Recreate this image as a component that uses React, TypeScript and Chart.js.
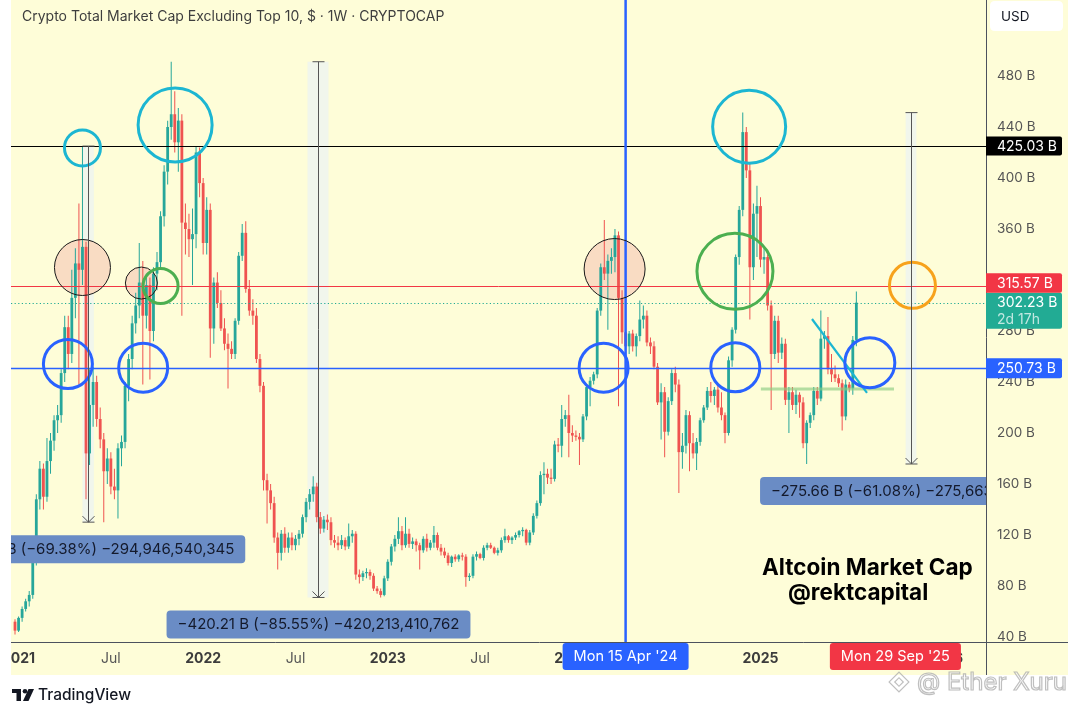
import React, { useEffect, useRef } from 'react';
import { Chart, registerables } from 'chart.js';

Chart.register(...registerables);

const FONT = 'Inter, "Noto Sans", sans-serif';
const UP = '#26A69A';
const DOWN = '#EF5350';
const PANEL_BG = '#FEFDD8';
const CYAN = '#1CB6D2';
const BLUE = '#2962FF';
const GREEN = '#4CAF50';
const ORANGE = '#F7A21B';
const PEACH = '#F9DCC3';
const PANEL_RIGHT = 1068;
const PANEL_BOTTOM = 675;

// ---------- weekly time axis (Mondays) ----------
const FIRST_MONDAY_UTC = Date.UTC(2020, 11, 28);
const WEEK_MS = 7 * 24 * 3600 * 1000;
const AXIS_WEEKS = 275;
const weekDates = Array.from({ length: AXIS_WEEKS }, (_, i) => new Date(FIRST_MONDAY_UTC + i * WEEK_MS));

// ---------- OHLC (billions USD), one row per 10 weeks ----------
const opens = [
  52, 45, 55, 62, 68, 73, 100, 148, 172, 150,
  178, 194, 210, 214, 247, 283, 262, 306, 333, 328,
  346, 184, 222, 240, 211, 195, 170, 180, 158, 155,
  188, 193, 237, 258, 286, 300, 318, 292, 316, 280,
  325, 334, 370, 405, 440, 450, 428, 445, 365, 360,
  352, 356, 420, 396, 349, 375, 282, 318, 302, 282,
  270, 266, 262, 288, 339, 357, 313, 296, 292, 258,
  237, 163, 155, 145, 118, 106, 121, 110, 118, 112,
  117, 121, 134, 146, 152, 158, 134, 125, 132, 130,
  116, 114, 112, 116, 111, 119, 121, 89, 87, 90,
  91, 88, 78, 76, 73, 86, 99, 111, 117, 123,
  112, 121, 113, 115, 112, 108, 117, 110, 114, 120,
  110, 107, 104, 98, 103, 101, 104, 103, 87, 88,
  103, 105, 102, 110, 112, 110, 106, 108, 116, 119,
  116, 118, 120, 123, 124, 114, 122, 135, 145, 167,
  168, 165, 164, 191, 190, 211, 214, 200, 198, 197,
  195, 213, 236, 241, 246, 296, 330, 325, 335, 338,
  355, 306, 279, 268, 278, 268, 276, 289, 292, 271,
  268, 252, 224, 232, 201, 225, 247, 238, 185, 190,
  214, 192, 184, 193, 210, 220, 233, 229, 234, 220,
  214, 200, 257, 281, 338, 375, 436, 406, 330, 372,
  378, 336, 338, 300, 262, 288, 263, 270, 226, 232,
  222, 230, 224, 192, 208, 214, 233, 227, 274, 276,
  250, 246, 243, 239, 213, 238, 235, 273,
];
const highs = [
  54, 56, 64, 70, 76, 102, 152, 178, 176, 196,
  200, 214, 222, 250, 292, 292, 328, 345, 380, 425.03,
  350, 250, 252, 245, 220, 200, 188, 185, 172, 192,
  198, 240, 262, 292, 310, 349, 335, 325, 322, 330,
  342, 374, 410, 445, 491.2, 468, 455, 450, 380, 372,
  376, 425, 424, 400, 385, 380, 322, 326, 312, 290,
  278, 272, 290, 342, 364, 366, 320, 305, 298, 262,
  240, 168, 160, 150, 122, 124, 126, 122, 122, 120,
  124, 136, 149, 156, 166, 161, 138, 135, 136, 134,
  120, 119, 120, 118, 129, 124, 123, 93, 92, 94,
  93, 90, 80, 78, 88, 101, 113, 120, 134, 127,
  134, 125, 118, 117, 114, 119, 121, 116, 127, 122,
  113, 110, 106, 104, 105, 105, 106, 105, 90, 105,
  107, 106, 112, 114, 114, 111, 110, 118, 125, 120,
  119, 122, 124, 126, 125, 124, 137, 147, 170, 177,
  172, 172, 194, 196, 222, 218, 230, 206, 202, 200,
  215, 237, 244, 248, 298, 333, 367, 340, 345, 360,
  358, 312, 289, 280, 281, 278, 304, 300, 296, 275,
  272, 255, 239, 236, 228, 250, 252, 242, 200, 218,
  217, 200, 196, 212, 222, 236, 240, 236, 238, 232,
  216, 260, 283, 340, 378, 451.3, 440, 412, 380, 394,
  385, 345, 340, 304, 292, 292, 275, 274, 236, 236,
  234, 232, 228, 210, 216, 236, 236, 296, 280, 291,
  262, 253, 246, 242, 242, 240, 276, 311,
];
const lows = [
  42, 44, 52, 60, 64, 70, 96, 140, 140, 146,
  168, 186, 200, 208, 240, 250, 255, 290, 238, 316,
  148, 175, 205, 205, 188, 130.08, 160, 152, 148, 133,
  174, 188, 225, 250, 278, 290, 238, 282, 242, 272,
  312, 330, 362, 395, 430, 420, 405, 292, 340, 338,
  316, 345, 385, 340, 340, 259, 270, 298, 280, 265,
  235, 258, 258, 285, 335, 310, 292, 285, 255, 232,
  155, 129, 140, 114, 93, 100, 106, 106, 108, 108,
  112, 118, 130, 140, 146, 130, 121, 122, 124, 112,
  110, 108, 109, 108, 109, 114, 85, 82, 84, 86,
  85, 76, 74, 71, 72, 84, 96, 107, 113, 108,
  110, 110, 109, 107, 93, 106, 107, 108, 110, 108,
  104, 102, 96, 95, 99, 99, 100, 79.5, 84, 86,
  100, 101, 100, 108, 109, 105, 104, 106, 114, 114,
  113, 116, 118, 119, 112, 112, 120, 133, 143, 152,
  160, 160, 162, 185, 181, 205, 181, 193, 194, 175,
  193, 210, 221, 238, 243, 292, 320, 281, 325, 326,
  221, 270, 236, 262, 264, 260, 272, 282, 268, 262,
  250, 222, 195, 181, 198, 222, 232, 153, 172, 184,
  170, 180, 171, 190, 208, 218, 224, 222, 216, 210,
  192, 198, 252, 278, 332, 370, 400, 289, 320, 338,
  330, 325, 296, 218, 258, 255, 258, 222, 200, 218,
  215, 212, 188, 175.7, 204, 210, 222, 225, 266, 246,
  240, 240, 236, 202, 210, 232, 230, 268,
];
const closes = [
  45, 55, 62, 68, 73, 100, 148, 172, 150, 178,
  194, 210, 214, 247, 283, 262, 306, 333, 328, 346,
  184, 222, 240, 211, 195, 170, 180, 158, 155, 188,
  193, 237, 258, 286, 300, 318, 292, 316, 280, 325,
  334, 370, 405, 440, 450, 428, 445, 365, 360, 352,
  356, 420, 396, 349, 375, 282, 318, 302, 282, 270,
  266, 262, 288, 339, 357, 313, 296, 292, 258, 237,
  163, 155, 145, 118, 106, 121, 110, 118, 112, 117,
  121, 134, 146, 152, 158, 134, 125, 132, 130, 116,
  114, 112, 116, 111, 119, 121, 89, 87, 90, 91,
  88, 78, 76, 73, 86, 99, 111, 117, 123, 112,
  121, 113, 115, 112, 108, 117, 110, 114, 120, 110,
  107, 104, 98, 103, 101, 104, 103, 87, 88, 103,
  105, 102, 110, 112, 110, 106, 108, 116, 119, 116,
  118, 120, 123, 124, 114, 122, 135, 145, 167, 168,
  165, 164, 191, 190, 211, 214, 200, 198, 197, 195,
  213, 236, 241, 246, 296, 330, 325, 335, 338, 355,
  306, 279, 268, 278, 268, 276, 289, 292, 271, 268,
  252, 224, 232, 201, 225, 247, 238, 185, 190, 214,
  192, 184, 193, 210, 220, 233, 229, 234, 220, 214,
  200, 257, 281, 338, 375, 436, 406, 330, 372, 378,
  336, 338, 300, 262, 288, 263, 270, 226, 232, 222,
  230, 224, 192, 208, 214, 233, 227, 274, 276, 250,
  246, 243, 239, 213, 238, 235, 273, 302.23,
];

// ---------- axes ----------
const yTickValues = [40, 80, 120, 160, 200, 240, 280, 320, 360, 400, 440, 480, 520];
const Y_MIN = 36.08;
const Y_MAX = 539.61;
const X_MIN = -1.13;
const X_MAX = 273.52;

// time ticks: first weekly bar of each January (year) and July
const timeTicks: { week: number; label: string; bold: boolean }[] = [];
for (let i = 1; i < weekDates.length; i++) {
  const m = weekDates[i].getUTCMonth();
  const pm = weekDates[i - 1].getUTCMonth();
  if (m !== pm && (m === 0 || m === 6)) {
    timeTicks.push({ week: i, label: m === 0 ? String(weekDates[i].getUTCFullYear()) : 'Jul', bold: m === 0 });
  }
}
const tickLabelByWeek: Record<number, string> = {};
const boldWeeks = new Set<number>();
timeTicks.forEach((t) => {
  tickLabelByWeek[t.week] = t.label;
  if (t.bold) boldWeeks.add(t.week);
});

// ---------- annotations ----------
const levels = [
  { value: 425.03, color: '#000000', width: 1.2, dash: [] as number[] },
  { value: 315.57, color: '#F23645', width: 1, dash: [] as number[] },
  { value: 302.23, color: '#22AB94', width: 1.2, dash: [1.2, 2.4] },
  { value: 250.73, color: BLUE, width: 1.3, dash: [] as number[] },
];
const blueMarkerWeek = 172; // Mon 15 Apr '24
const dateTags = [
  { week: 172, text: "Mon 15 Apr '24", color: BLUE },
  { week: 248, text: "Mon 29 Sep '25", color: '#F23645' },
];
const circles = [
  { week: 19.0, value: 423.5, r: 18, stroke: CYAN, lw: 3, fill: '' },
  { week: 45.1, value: 441.6, r: 37, stroke: CYAN, lw: 3, fill: '' },
  { week: 19.0, value: 329.8, r: 28, stroke: '#1a1a1a', lw: 1, fill: PEACH },
  { week: 35.6, value: 317.6, r: 16, stroke: '#1a1a1a', lw: 1, fill: PEACH },
  { week: 41.0, value: 315.3, r: 17.5, stroke: GREEN, lw: 3, fill: '' },
  { week: 14.9, value: 254.1, r: 24.5, stroke: BLUE, lw: 3, fill: '' },
  { week: 36.1, value: 251.2, r: 24.5, stroke: BLUE, lw: 3, fill: '' },
  { week: 168.9, value: 328.6, r: 30.5, stroke: '#1a1a1a', lw: 1, fill: PEACH },
  { week: 165.8, value: 251.2, r: 24.5, stroke: BLUE, lw: 3, fill: '' },
  { week: 206.8, value: 440.2, r: 36.5, stroke: CYAN, lw: 3, fill: '' },
  { week: 202.8, value: 326.8, r: 38, stroke: GREEN, lw: 3, fill: '' },
  { week: 202.9, value: 251.5, r: 24.5, stroke: BLUE, lw: 3, fill: '' },
  { week: 240.8, value: 255.1, r: 25, stroke: BLUE, lw: 3, fill: '' },
  { week: 252.8, value: 315.8, r: 23, stroke: ORANGE, lw: 3, fill: '' },
];
const trendLines = [
  { from: [210.1, 234.5], to: [247.6, 234.5], color: 'rgba(140,205,130,0.65)', lw: 3 },
  { from: [224.5, 289.4], to: [240.0, 231.4], color: CYAN, lw: 2.2 },
];
const measures = [
  { week: 20.6, band: [19.0, 22.2], from: 425.03, to: 130.08, text: '−294.95 B (−69.38%) −294,946,540,345' },
  { week: 85.4, band: [82.4, 88.3], from: 491.2, to: 71.0, text: '−420.21 B (−85.55%) −420,213,410,762' },
  { week: 252.4, band: [250.9, 253.9], from: 451.3, to: 175.7, text: '−275.66 B (−61.08%) −275,663,724,510' },
];
const signature = [
  { text: 'Altcoin Market Cap', week: 240.1, value: 93.7 },
  { text: '@rektcapital', week: 237.5, value: 74.1 },
];
const TITLE = 'Crypto Total Market Cap Excluding Top 10, $ · 1W · CRYPTOCAP';

function roundRect(c: CanvasRenderingContext2D, x: number, y: number, w: number, h: number, r: number) {
  c.beginPath();
  c.moveTo(x + r, y);
  c.lineTo(x + w - r, y);
  c.quadraticCurveTo(x + w, y, x + w, y + r);
  c.lineTo(x + w, y + h - r);
  c.quadraticCurveTo(x + w, y + h, x + w - r, y + h);
  c.lineTo(x + r, y + h);
  c.quadraticCurveTo(x, y + h, x, y + h - r);
  c.lineTo(x, y + r);
  c.quadraticCurveTo(x, y, x + r, y);
  c.closePath();
}

const overlay = {
  id: 'overlay',
  beforeDraw(chart: any) {
    const c = chart.ctx as CanvasRenderingContext2D;
    const a = chart.chartArea;
    c.save();
    c.fillStyle = '#FFFFFF';
    c.fillRect(0, 0, chart.width, chart.height);
    c.fillStyle = PANEL_BG;
    c.fillRect(a.left, 0, PANEL_RIGHT - a.left, PANEL_BOTTOM);
    c.restore();
  },
  beforeDatasetsDraw(chart: any) {
    const c = chart.ctx as CanvasRenderingContext2D;
    const a = chart.chartArea;
    const X = (v: number) => chart.scales.x.getPixelForValue(v);
    const Y = (v: number) => chart.scales.y.getPixelForValue(v);
    c.save();
    c.beginPath();
    c.rect(a.left, a.top, a.right - a.left, a.bottom - a.top);
    c.clip();
    measures.forEach((m) => {
      c.fillStyle = 'rgba(228,240,255,0.5)';
      const x0 = X(m.band[0]);
      const x1 = X(m.band[1]);
      c.fillRect(x0, Y(m.from), x1 - x0, Y(m.to) - Y(m.from));
    });
    circles.forEach((k) => {
      if (!k.fill) return;
      c.beginPath();
      c.arc(X(k.week), Y(k.value), k.r, 0, Math.PI * 2);
      c.fillStyle = k.fill;
      c.fill();
    });
    c.restore();
  },
  afterDatasetsDraw(chart: any) {
    const c = chart.ctx as CanvasRenderingContext2D;
    const a = chart.chartArea;
    const X = (v: number) => chart.scales.x.getPixelForValue(v);
    const Y = (v: number) => chart.scales.y.getPixelForValue(v);
    c.save();
    c.beginPath();
    c.rect(a.left, a.top, a.right - a.left, a.bottom - a.top);
    c.clip();

    // horizontal levels
    levels.forEach((l) => {
      c.beginPath();
      c.setLineDash(l.dash);
      c.strokeStyle = l.color;
      c.lineWidth = l.width;
      const y = Math.round(Y(l.value)) + 0.5;
      c.moveTo(a.left, y);
      c.lineTo(a.right, y);
      c.stroke();
    });
    c.setLineDash([]);

    // vertical blue marker
    c.beginPath();
    c.strokeStyle = BLUE;
    c.lineWidth = 2.5;
    c.moveTo(X(blueMarkerWeek), a.top);
    c.lineTo(X(blueMarkerWeek), a.bottom);
    c.stroke();

    // trend lines
    trendLines.forEach((t) => {
      c.beginPath();
      c.strokeStyle = t.color;
      c.lineWidth = t.lw;
      c.moveTo(X(t.from[0]), Y(t.from[1]));
      c.lineTo(X(t.to[0]), Y(t.to[1]));
      c.stroke();
    });

    // circles
    circles.forEach((k) => {
      c.beginPath();
      c.arc(X(k.week), Y(k.value), k.r, 0, Math.PI * 2);
      c.strokeStyle = k.stroke;
      c.lineWidth = k.lw;
      c.stroke();
    });

    // measurement arrows + labels
    measures.forEach((m) => {
      const x = Math.round(X(m.week)) + 0.5;
      const yt = Y(m.from);
      const yb = Y(m.to);
      c.strokeStyle = '#555555';
      c.lineWidth = 1;
      c.beginPath();
      c.moveTo(x, yt);
      c.lineTo(x, yb);
      c.moveTo(x - 6, yt);
      c.lineTo(x + 6, yt);
      c.moveTo(x - 6, yb);
      c.lineTo(x + 6, yb);
      c.moveTo(x - 6, yb - 6);
      c.lineTo(x, yb);
      c.lineTo(x + 6, yb - 6);
      c.stroke();

      c.font = `15px ${FONT}`;
      const tw = c.measureText(m.text).width;
      const bw = tw + 22;
      const bx = x - bw / 2;
      const by = yb + 13;
      roundRect(c, bx, by, bw, 28, 4);
      c.fillStyle = '#6A8CC5';
      c.fill();
      c.fillStyle = '#141A2C';
      c.textAlign = 'center';
      c.textBaseline = 'middle';
      c.fillText(m.text, x, by + 14.5);
    });

    // signature
    c.fillStyle = '#000000';
    c.font = `bold 22.5px ${FONT}`;
    c.textAlign = 'center';
    c.textBaseline = 'middle';
    signature.forEach((s) => c.fillText(s.text, X(s.week), Y(s.value)));
    c.restore();
  },
  afterDraw(chart: any) {
    const c = chart.ctx as CanvasRenderingContext2D;
    const a = chart.chartArea;
    const X = (v: number) => chart.scales.x.getPixelForValue(v);
    const Y = (v: number) => chart.scales.y.getPixelForValue(v);
    c.save();
    // white margin left of the panel
    c.fillStyle = '#FFFFFF';
    c.fillRect(0, 0, a.left, chart.height);

    // axis lines
    c.strokeStyle = '#4C525E';
    c.lineWidth = 1;
    c.beginPath();
    c.moveTo(Math.round(a.right) + 0.5, 0);
    c.lineTo(Math.round(a.right) + 0.5, PANEL_BOTTOM);
    c.moveTo(a.left, Math.round(a.bottom) + 0.5);
    c.lineTo(PANEL_RIGHT, Math.round(a.bottom) + 0.5);
    c.stroke();

    // price tags on the right axis
    const tagX = a.right;
    const tagW = 76;
    const tag = (top: number, h: number, bg: string) => {
      c.fillStyle = bg;
      c.beginPath();
      c.moveTo(tagX, top);
      c.lineTo(tagX + tagW - 2, top);
      c.quadraticCurveTo(tagX + tagW, top, tagX + tagW, top + 2);
      c.lineTo(tagX + tagW, top + h - 2);
      c.quadraticCurveTo(tagX + tagW, top + h, tagX + tagW - 2, top + h);
      c.lineTo(tagX, top + h);
      c.closePath();
      c.fill();
    };
    c.font = `14px ${FONT}`;
    c.textAlign = 'left';
    c.textBaseline = 'middle';
    const fmt = (v: number) => `${v.toFixed(2)} B`;
    // black 425.03
    let yc = Y(levels[0].value);
    tag(yc - 9.5, 19, '#000000');
    c.fillStyle = '#FFFFFF';
    c.fillText(fmt(levels[0].value), tagX + 11, yc + 0.5);
    // green current price (two lines)
    const gTop = Y(levels[2].value) - 10;
    tag(gTop, 36, '#22AB94');
    c.fillStyle = '#FFFFFF';
    c.fillText(fmt(levels[2].value), tagX + 11, gTop + 10.5);
    c.fillStyle = 'rgba(255,255,255,0.72)';
    c.fillText('2d 17h', tagX + 11, gTop + 27);
    // red, stacked above green
    tag(gTop - 19.5, 19.5, '#F23645');
    c.fillStyle = '#FFFFFF';
    c.fillText(fmt(levels[1].value), tagX + 11, gTop - 9.25);
    // blue
    yc = Y(levels[3].value);
    tag(yc - 10, 20, BLUE);
    c.fillStyle = '#FFFFFF';
    c.fillText(fmt(levels[3].value), tagX + 11, yc + 0.5);

    // date tags on the time axis
    dateTags.forEach((d) => {
      const x = X(d.week);
      c.font = `14.5px ${FONT}`;
      const w = c.measureText(d.text).width + 22;
      roundRect(c, x - w / 2, a.bottom + 1, w, 27, 3);
      c.fillStyle = d.color;
      c.fill();
      c.fillStyle = '#FFFFFF';
      c.textAlign = 'center';
      c.fillText(d.text, x, a.bottom + 15);
    });

    // USD box
    roundRect(c, 990, 1, 73, 30, 5);
    c.fillStyle = '#FFFFFF';
    c.fill();
    c.fillStyle = '#131722';
    c.font = `13.5px ${FONT}`;
    c.textAlign = 'left';
    c.fillText('USD', 1001, 16.5);

    // title
    c.fillStyle = '#3E3E3E';
    c.font = `14px ${FONT}`;
    c.fillText(TITLE, 22, 17);

    // TradingView logo
    c.fillStyle = '#131722';
    c.fillRect(12, 689, 9, 4);
    c.fillRect(16.5, 689, 4.5, 12);
    c.beginPath();
    c.arc(25, 691.2, 2.3, 0, Math.PI * 2);
    c.fill();
    c.beginPath();
    c.moveTo(28.5, 689);
    c.lineTo(34, 689);
    c.lineTo(28.5, 701);
    c.lineTo(23, 701);
    c.closePath();
    c.fill();
    c.font = `500 15.5px ${FONT}`;
    c.textAlign = 'left';
    c.fillText('TradingView', 38, 695.5);

    // watermark
    c.strokeStyle = 'rgba(170,170,170,0.75)';
    c.lineWidth = 1.2;
    c.save();
    c.translate(899, 682);
    c.rotate(Math.PI / 4);
    c.strokeRect(-7, -7, 14, 14);
    c.strokeRect(-3, -3, 6, 6);
    c.restore();
    c.font = `24px ${FONT}`;
    c.fillStyle = 'rgba(255,255,255,0.55)';
    c.textAlign = 'left';
    c.fillText('@ Ether Xuru', 917, 683);
    c.strokeText('@ Ether Xuru', 917, 683);
    c.restore();
  },
};

const candleColor = (ctx: any) => {
  const i = ctx.dataIndex;
  return closes[i] >= opens[i] ? UP : DOWN;
};

export default function App() {
  const ref = useRef<HTMLCanvasElement>(null);
  useEffect(() => {
    document.body.style.margin = '0';
    const canvas = ref.current;
    if (!canvas) return;
    const wickData = highs.map((h, i) => ({ x: i, y: [lows[i], h] }));
    const bodyData = opens.map((o, i) => ({ x: i, y: [Math.min(o, closes[i]), Math.max(o, closes[i])] }));
    const chart = new Chart(canvas, {
      type: 'bar',
      data: {
        datasets: [
          {
            label: 'wick',
            data: wickData as any,
            backgroundColor: candleColor,
            barThickness: 1,
            grouped: false,
            borderWidth: 0,
            inflateAmount: 0,
            order: 2,
          } as any,
          {
            label: 'body',
            data: bodyData as any,
            backgroundColor: candleColor,
            barThickness: 2.8,
            grouped: false,
            borderWidth: 0,
            inflateAmount: 0,
            minBarLength: 1,
            order: 1,
          } as any,
        ],
      },
      options: {
        animation: false,
        responsive: false,
        maintainAspectRatio: false,
        layout: { padding: { left: 11, right: 12, top: 0, bottom: 31 } },
        plugins: { legend: { display: false }, tooltip: { enabled: false } },
        scales: {
          x: {
            type: 'linear',
            min: X_MIN,
            max: X_MAX,
            offset: false,
            grid: { display: false, drawTicks: false },
            border: { display: false },
            afterBuildTicks: (s: any) => {
              s.ticks = timeTicks.map((t) => ({ value: t.week }));
            },
            afterFit: (s: any) => {
              s.height = 33;
              s.paddingLeft = 0;
              s.paddingRight = 0;
              s.paddingTop = 0;
              s.paddingBottom = 0;
            },
            ticks: {
              autoSkip: false,
              maxRotation: 0,
              minRotation: 0,
              padding: 8,
              callback: (v: any) => tickLabelByWeek[v] ?? '',
              font: (ctx: any) => ({
                family: FONT,
                size: 14,
                weight: ctx.tick && boldWeeks.has(ctx.tick.value) ? 'bold' : 'normal',
              }),
              color: (ctx: any) => (ctx.tick && boldWeeks.has(ctx.tick.value) ? '#3C3C3C' : '#555555'),
            },
          } as any,
          y: {
            type: 'linear',
            position: 'right',
            min: Y_MIN,
            max: Y_MAX,
            grid: { display: false, drawTicks: false },
            border: { display: false },
            afterBuildTicks: (s: any) => {
              s.ticks = yTickValues.map((v) => ({ value: v }));
            },
            afterFit: (s: any) => {
              s.width = 82;
              s.paddingLeft = 0;
              s.paddingRight = 0;
              s.paddingTop = 0;
              s.paddingBottom = 0;
            },
            ticks: {
              padding: 11,
              callback: (v: any) => `${v} B`,
              font: { family: FONT, size: 13.5 },
              color: '#555555',
            },
          } as any,
        },
      },
      plugins: [overlay],
    });
    return () => chart.destroy();
  }, []);
  return (
    <div style={{ width: 1080, height: 706, position: 'relative', background: '#FFFFFF' }}>
      <canvas ref={ref} width={1080} height={706} style={{ display: 'block', width: 1080, height: 706 }} />
    </div>
  );
}
